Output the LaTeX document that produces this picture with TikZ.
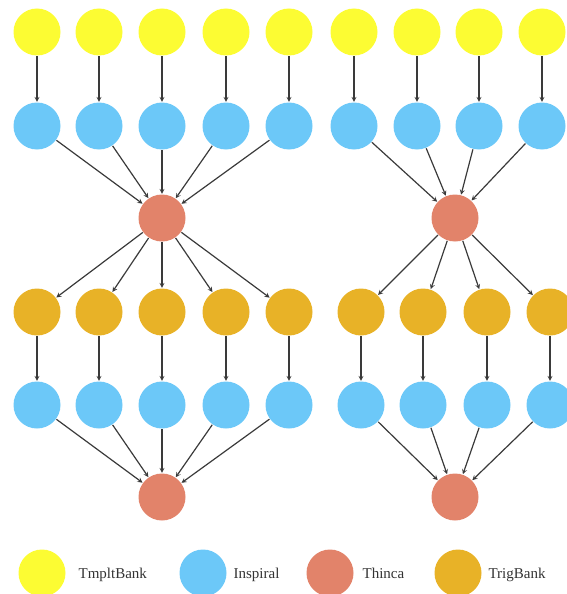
\documentclass[tikz,border=0pt]{standalone}
\usepackage{fontspec}
\setmainfont{Liberation Serif}
\usetikzlibrary{positioning,arrows}
\definecolor{tmpltcol}{HTML}{FCFC33}
\definecolor{inspcol}{HTML}{6CC8F8}
\definecolor{thincacol}{HTML}{E2836A}
\definecolor{trigcol}{HTML}{E8B227}
\definecolor{edgecol}{HTML}{3A3A3A}
\tikzset{font=\fontsize{15}{18}\selectfont}
\tikzset{job/.style={circle, minimum size=47pt, inner sep=0pt},
	tmplt/.style={job, fill=tmpltcol},
	insp/.style={job, fill=inspcol},
	thinca/.style={job, fill=thincacol},
	trig/.style={job, fill=trigcol},
	legtext/.style={anchor=base west, inner sep=0pt, text=black!80}}

\begin{document}
\begin{tikzpicture}[x=1pt, y=-1pt]
	\useasboundingbox (0,0) rectangle (567,594);
	\clip (0,0) rectangle (567,594);
	\begin{scope}
		\tikzstyle{every path}=[draw=edgecol, line width=1.2pt]
		% left workflow
		\node[tmplt] (ltmplt1) at (37, 32) {};
		\node[tmplt] (ltmplt2) at (99, 32) {};
		\node[tmplt] (ltmplt3) at (162, 32) {};
		\node[tmplt] (ltmplt4) at (226, 32) {};
		\node[tmplt] (ltmplt5) at (289, 32) {};

		\node[insp] (linsp1) at (37, 126) {};
		\node[insp] (linsp2) at (99, 126) {};
		\node[insp] (linsp3) at (162, 126) {};
		\node[insp] (linsp4) at (226, 126) {};
		\node[insp] (linsp5) at (289, 126) {};

		\node[thinca] (lthinca) at (162, 218) {};

		\node[trig] (ltrig1) at (37, 312) {};
		\node[trig] (ltrig2) at (99, 312) {};
		\node[trig] (ltrig3) at (162, 312) {};
		\node[trig] (ltrig4) at (226, 312) {};
		\node[trig] (ltrig5) at (289, 312) {};

		\node[insp] (linspb1) at (37, 405) {};
		\node[insp] (linspb2) at (99, 405) {};
		\node[insp] (linspb3) at (162, 405) {};
		\node[insp] (linspb4) at (226, 405) {};
		\node[insp] (linspb5) at (289, 405) {};

		\node[thinca] (lthincab) at (162, 497) {};

		% right workflow
		\node[tmplt] (rtmplt1) at (354, 32) {};
		\node[tmplt] (rtmplt2) at (417, 32) {};
		\node[tmplt] (rtmplt3) at (479, 32) {};
		\node[tmplt] (rtmplt4) at (542, 32) {};

		\node[insp] (rinsp1) at (354, 126) {};
		\node[insp] (rinsp2) at (417, 126) {};
		\node[insp] (rinsp3) at (479, 126) {};
		\node[insp] (rinsp4) at (542, 126) {};

		\node[thinca] (rthinca) at (455, 218) {};

		\node[trig] (rtrig1) at (361, 312) {};
		\node[trig] (rtrig2) at (423, 312) {};
		\node[trig] (rtrig3) at (487, 312) {};
		\node[trig] (rtrig4) at (550, 312) {};

		\node[insp] (rinspb1) at (361, 405) {};
		\node[insp] (rinspb2) at (423, 405) {};
		\node[insp] (rinspb3) at (487, 405) {};
		\node[insp] (rinspb4) at (550, 405) {};

		\node[thinca] (rthincab) at (455, 497) {};

		% legend
		\node[tmplt] (legtmplt) at (42, 573) {};
		\node[legtext] (legtmpltl) at (78, 578) {TmpltBank};
		\node[insp] (leginsp) at (203, 573) {};
		\node[legtext] (leginspl) at (233, 578) {Inspiral};
		\node[thinca] (legthinca) at (330, 573) {};
		\node[legtext] (legthincal) at (362, 578) {Thinca};
		\node[trig] (legtrig) at (458, 573) {};
		\node[legtext] (legtrigl) at (488, 578) {TrigBank};

		\draw[->, >=stealth](ltmplt1) -- (linsp1);
		\draw[->, >=stealth](ltmplt2) -- (linsp2);
		\draw[->, >=stealth](ltmplt3) -- (linsp3);
		\draw[->, >=stealth](ltmplt4) -- (linsp4);
		\draw[->, >=stealth](ltmplt5) -- (linsp5);

		\draw[->, >=stealth](linsp1) -- (lthinca);
		\draw[->, >=stealth](linsp2) -- (lthinca);
		\draw[->, >=stealth](linsp3) -- (lthinca);
		\draw[->, >=stealth](linsp4) -- (lthinca);
		\draw[->, >=stealth](linsp5) -- (lthinca);

		\draw[->, >=stealth](lthinca) -- (ltrig1);
		\draw[->, >=stealth](lthinca) -- (ltrig2);
		\draw[->, >=stealth](lthinca) -- (ltrig3);
		\draw[->, >=stealth](lthinca) -- (ltrig4);
		\draw[->, >=stealth](lthinca) -- (ltrig5);

		\draw[->, >=stealth](ltrig1) -- (linspb1);
		\draw[->, >=stealth](ltrig2) -- (linspb2);
		\draw[->, >=stealth](ltrig3) -- (linspb3);
		\draw[->, >=stealth](ltrig4) -- (linspb4);
		\draw[->, >=stealth](ltrig5) -- (linspb5);

		\draw[->, >=stealth](linspb1) -- (lthincab);
		\draw[->, >=stealth](linspb2) -- (lthincab);
		\draw[->, >=stealth](linspb3) -- (lthincab);
		\draw[->, >=stealth](linspb4) -- (lthincab);
		\draw[->, >=stealth](linspb5) -- (lthincab);

		\draw[->, >=stealth](rtmplt1) -- (rinsp1);
		\draw[->, >=stealth](rtmplt2) -- (rinsp2);
		\draw[->, >=stealth](rtmplt3) -- (rinsp3);
		\draw[->, >=stealth](rtmplt4) -- (rinsp4);

		\draw[->, >=stealth](rinsp1) -- (rthinca);
		\draw[->, >=stealth](rinsp2) -- (rthinca);
		\draw[->, >=stealth](rinsp3) -- (rthinca);
		\draw[->, >=stealth](rinsp4) -- (rthinca);

		\draw[->, >=stealth](rthinca) -- (rtrig1);
		\draw[->, >=stealth](rthinca) -- (rtrig2);
		\draw[->, >=stealth](rthinca) -- (rtrig3);
		\draw[->, >=stealth](rthinca) -- (rtrig4);

		\draw[->, >=stealth](rtrig1) -- (rinspb1);
		\draw[->, >=stealth](rtrig2) -- (rinspb2);
		\draw[->, >=stealth](rtrig3) -- (rinspb3);
		\draw[->, >=stealth](rtrig4) -- (rinspb4);

		\draw[->, >=stealth](rinspb1) -- (rthincab);
		\draw[->, >=stealth](rinspb2) -- (rthincab);
		\draw[->, >=stealth](rinspb3) -- (rthincab);
		\draw[->, >=stealth](rinspb4) -- (rthincab);
	\end{scope}
\end{tikzpicture}
\end{document}
